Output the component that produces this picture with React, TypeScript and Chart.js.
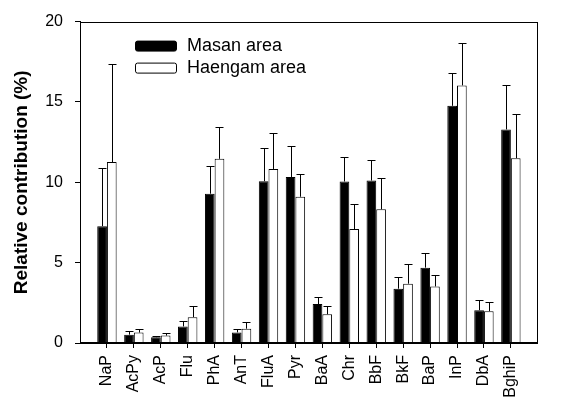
import React, { useEffect, useRef } from "react";
import { Chart, registerables } from "chart.js";

Chart.register(...registerables);

const categories = ["NaP", "AcPy", "AcP", "Flu", "PhA", "AnT", "FluA", "Pyr", "BaA", "Chr", "BbF", "BkF", "BaP", "InP", "DbA", "BghiP"];
const masanValues = [7.27, 0.52, 0.36, 1.03, 9.29, 0.66, 10.07, 10.33, 2.42, 10.05, 10.11, 3.38, 4.69, 14.76, 2.04, 13.29];
const masanSD = [3.59, 0.2, 0.06, 0.36, 1.71, 0.2, 2.09, 1.92, 0.44, 1.55, 1.27, 0.75, 0.91, 2.02, 0.66, 2.76];
const haengamValues = [11.26, 0.65, 0.46, 1.61, 11.46, 0.89, 10.83, 9.1, 1.79, 7.09, 8.32, 3.69, 3.52, 16.03, 1.98, 11.5];
const haengamSD = [6.1, 0.2, 0.19, 0.7, 1.97, 0.42, 2.24, 1.41, 0.51, 1.53, 1.97, 1.25, 0.73, 2.64, 0.6, 2.72];
const yTicks = [0, 5, 10, 15, 20];
const seriesNames = ["Masan area", "Haengam area"];

const FONT = "'Liberation Sans', Arial, Helvetica, sans-serif";

export default function App() {
  const ref = useRef<HTMLCanvasElement | null>(null);

  useEffect(() => {
    document.body.style.margin = "0";
    const canvas = ref.current;
    if (!canvas) return;

    const labels = ["", ...categories, ""];
    const pad = (a: number[]) => [null, ...a, null];
    const sds = [pad(masanSD), pad(haengamSD)];

    const errorBars = {
      id: "errorBars",
      afterDatasetsDraw(chart: any) {
        const ctx = chart.ctx;
        const yScale = chart.scales.y;
        ctx.save();
        ctx.strokeStyle = "#000";
        ctx.lineWidth = 1;
        chart.data.datasets.forEach((ds: any, di: number) => {
          const meta = chart.getDatasetMeta(di);
          meta.data.forEach((el: any, j: number) => {
            const v = ds.data[j];
            const sd = sds[di][j];
            if (v == null || sd == null) return;
            const x = Math.round(el.x) + 0.5;
            const yb = el.y;
            const yt = Math.round(yScale.getPixelForValue(v + sd)) + 0.5;
            ctx.beginPath();
            ctx.moveTo(x, yb);
            ctx.lineTo(x, yt);
            ctx.moveTo(x - 4, yt);
            ctx.lineTo(x + 4, yt);
            ctx.stroke();
          });
        });
        ctx.restore();
      },
    };

    const frameAndLegend = {
      id: "frameAndLegend",
      afterDraw(chart: any) {
        const ctx = chart.ctx;
        const a = chart.chartArea;
        ctx.save();
        ctx.strokeStyle = "#000";
        ctx.lineWidth = 1;
        ctx.strokeRect(Math.round(a.left) + 0.5, Math.round(a.top) + 0.5, Math.round(a.right - a.left) - 1, Math.round(a.bottom - a.top) - 1);
        // legend
        const bx = a.left + 55;
        const fills = ["#000", "#fff"];
        ctx.font = `18px ${FONT}`;
        ctx.textBaseline = "middle";
        ctx.fillStyle = "#000";
        for (let i = 0; i < 2; i++) {
          const by = a.top + 19 + i * 22;
          ctx.beginPath();
          if ((ctx as any).roundRect) (ctx as any).roundRect(bx + 0.5, by + 0.5, 41, 10, 2);
          else ctx.rect(bx + 0.5, by + 0.5, 41, 10);
          ctx.fillStyle = fills[i];
          ctx.fill();
          ctx.strokeStyle = "#000";
          ctx.stroke();
          ctx.fillStyle = "#000";
          ctx.fillText(seriesNames[i], a.left + 107, by + 5.5);
        }
        ctx.restore();
      },
    };

    const chart = new Chart(canvas, {
      type: "bar",
      data: {
        labels,
        datasets: [
          {
            label: seriesNames[0],
            data: pad(masanValues) as any,
            backgroundColor: "#000",
            borderColor: "#000",
            borderWidth: 1,
            categoryPercentage: 0.72,
            barPercentage: 1.0,
          },
          {
            label: seriesNames[1],
            data: pad(haengamValues) as any,
            backgroundColor: "#fff",
            borderColor: "#000",
            borderWidth: 1,
            categoryPercentage: 0.72,
            barPercentage: 1.0,
          },
        ],
      },
      options: {
        animation: false,
        responsive: true,
        maintainAspectRatio: false,
        layout: { padding: { top: 12, right: 8, left: 0, bottom: 0 } },
        plugins: {
          legend: { display: false },
          tooltip: { enabled: false },
        },
        scales: {
          x: {
            type: "category",
            offset: false,
            afterFit(scale: any) {
              scale.height = 66;
            },
            grid: {
              offset: false,
              drawOnChartArea: false,
              drawTicks: true,
              tickLength: 5,
              tickColor: (c: any) => (c.index === 0 || c.index === labels.length - 1 ? "rgba(0,0,0,0)" : "#000"),
              color: "#000",
            },
            border: { display: true, color: "#000", width: 1 },
            ticks: {
              autoSkip: false,
              maxRotation: 90,
              minRotation: 90,
              padding: 7,
              color: "#000",
              font: { family: FONT, size: 16 },
            },
          },
          y: {
            min: 0,
            max: 20,
            afterFit(scale: any) {
              scale.width = 80;
            },
            afterBuildTicks(scale: any) {
              scale.ticks = yTicks.map((v) => ({ value: v }));
            },
            grid: {
              drawOnChartArea: false,
              drawTicks: true,
              tickLength: 5,
              tickColor: "#000",
              color: "#000",
            },
            border: { display: true, color: "#000", width: 1 },
            ticks: {
              padding: 12,
              color: "#000",
              font: { family: FONT, size: 16 },
            },
            title: {
              display: true,
              text: "Relative contribution (%)",
              color: "#000",
              font: { family: FONT, size: 19, weight: "bold" },
              padding: { top: 10, bottom: 0 },
            },
          },
        },
      },
      plugins: [errorBars, frameAndLegend],
    });

    return () => chart.destroy();
  }, []);

  return (
    <div style={{ width: 564, height: 409, position: "relative", background: "#fff" }}>
      <canvas ref={ref} />
    </div>
  );
}
